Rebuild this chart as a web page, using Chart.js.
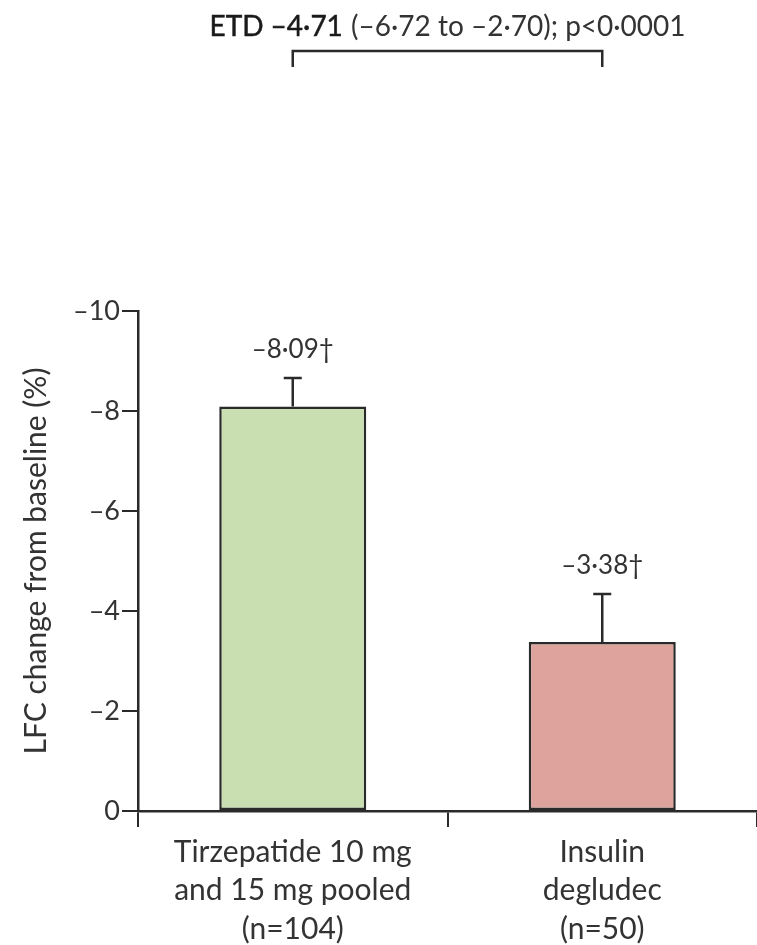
<!DOCTYPE html>
<html>
<head>
<meta charset="utf-8">
<script src="https://cdn.jsdelivr.net/npm/chart.js@4/dist/chart.umd.min.js"></script>
<style>
  html, body { margin: 0; padding: 0; background: #ffffff; }
  #wrap { width: 757px; height: 945px; position: relative; }
</style>
</head>
<body>
<div id="wrap"><canvas id="chart"></canvas></div>
<script>
// Treatment groups (multi-line axis labels)
const categories = [
  ["Tirzepatide 10 mg", "and 15 mg pooled", "(n=104)"],
  ["Insulin", "degludec", "(n=50)"]
];
// Least-squares mean change in liver fat content from baseline (%)
const lfcChange = [-8.09, -3.38];
// Standard error for each group
const standardError = [0.57, 0.96];
// Y-axis tick values and their printed labels
const yTickValues = [-10, -8, -6, -4, -2, 0];
const yTickLabels = ["\u201310", "\u20138", "\u20136", "\u20134", "\u20132", "0"];
// Treatment difference annotation
const etdLead = "ETD \u20134\u00b771";
const etdRest = " (\u20136\u00b772 to \u20132\u00b770); p<0\u00b70001";

const FONT = "Lato, 'Open Sans', sans-serif";
const INK = "#333333";
const LINE = "#2a2a2a";

function fmt(v) {
  return (v < 0 ? "\u2013" : "") + Math.abs(v).toFixed(2).replace(".", "\u00b7") + "\u2020";
}

const errorBarsAndLabels = {
  id: "errorBarsAndLabels",
  afterDatasetsDraw(chart) {
    const ctx = chart.ctx;
    const y = chart.scales.y;
    const meta = chart.getDatasetMeta(0);
    ctx.save();
    meta.data.forEach((bar, i) => {
      const top = y.getPixelForValue(lfcChange[i] - standardError[i]);
      ctx.strokeStyle = LINE;
      ctx.lineWidth = 2.5;
      ctx.beginPath();
      ctx.moveTo(bar.x, bar.y);
      ctx.lineTo(bar.x, top);
      ctx.moveTo(bar.x - 9, top);
      ctx.lineTo(bar.x + 9, top);
      ctx.stroke();
      ctx.fillStyle = INK;
      ctx.font = "26px " + FONT;
      ctx.textAlign = "center";
      ctx.textBaseline = "middle";
      ctx.fillText(fmt(lfcChange[i]), bar.x, top - 28);
    });

    // comparison bracket between the two group centres
    const x = chart.scales.x;
    const x0 = x.getPixelForValue(0);
    const x1 = x.getPixelForValue(1);
    ctx.strokeStyle = LINE;
    ctx.lineWidth = 2.5;
    ctx.beginPath();
    ctx.moveTo(x0, 67);
    ctx.lineTo(x0, 51);
    ctx.lineTo(x1, 51);
    ctx.lineTo(x1, 67);
    ctx.stroke();

    // annotation text: lead part in a slightly heavier weight
    ctx.textBaseline = "alphabetic";
    ctx.textAlign = "left";
    ctx.font = "28px " + FONT;
    const w1 = ctx.measureText(etdLead).width + 1;
    const w2 = ctx.measureText(etdRest).width;
    const startX = (x0 + x1) / 2 - (w1 + w2) / 2;
    ctx.fillStyle = "#1a1a1a";
    ctx.strokeStyle = "#1a1a1a";
    ctx.lineWidth = 0.5;
    ctx.fillText(etdLead, startX, 36);
    ctx.strokeText(etdLead, startX, 36);
    ctx.fillStyle = INK;
    ctx.fillText(etdRest, startX + w1, 36);
    ctx.restore();
  }
};

new Chart(document.getElementById("chart"), {
  type: "bar",
  data: {
    labels: categories,
    datasets: [{
      data: lfcChange,
      backgroundColor: ["#c9dfb1", "#dfa39e"],
      borderColor: LINE,
      borderWidth: 2.5,
      borderSkipped: false,
      barPercentage: 0.475,
      categoryPercentage: 1
    }]
  },
  options: {
    responsive: true,
    maintainAspectRatio: false,
    animation: false,
    layout: { padding: { top: 311, right: 0, bottom: 0, left: 0 } },
    plugins: {
      legend: { display: false },
      tooltip: { enabled: false }
    },
    scales: {
      x: {
        offset: true,
        border: { display: true, color: LINE, width: 2.5 },
        grid: {
          offset: true,
          drawOnChartArea: false,
          drawTicks: true,
          tickLength: 16,
          color: LINE,
          lineWidth: 2
        },
        ticks: {
          color: INK,
          font: { family: FONT, size: 30, lineHeight: 1.28 },
          padding: 6,
          maxRotation: 0
        },
        afterFit(scale) { scale.height = 134; }
      },
      y: {
        reverse: true,
        min: -10,
        max: 0,
        border: { display: true, color: LINE, width: 2.5 },
        grid: {
          drawOnChartArea: false,
          drawTicks: true,
          tickLength: 16,
          color: LINE,
          lineWidth: 2
        },
        afterBuildTicks(scale) {
          scale.ticks = yTickValues.map(v => ({ value: v }));
        },
        ticks: {
          color: INK,
          font: { family: FONT, size: 27 },
          padding: 2,
          callback(value) {
            const i = yTickValues.indexOf(value);
            return i >= 0 ? yTickLabels[i] : "";
          }
        },
        title: {
          display: true,
          text: "LFC change from baseline (%)",
          color: INK,
          font: { family: FONT, size: 30 },
          padding: { top: 18, bottom: 0 }
        },
        afterFit(scale) { scale.width = 138; }
      }
    }
  },
  plugins: [errorBarsAndLabels]
});
</script>
</body>
</html>
